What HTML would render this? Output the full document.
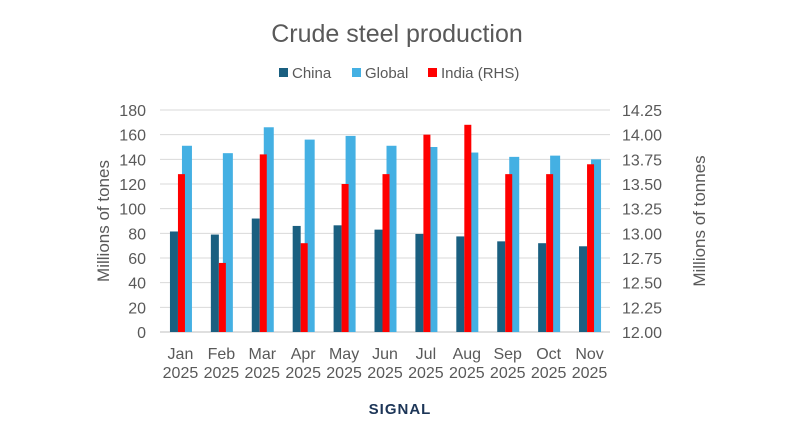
<!DOCTYPE html>
<html><head><meta charset="utf-8"><style>
body{margin:0;background:#fff;font-family:"Liberation Sans",sans-serif;}
svg text{font-family:"Liberation Sans",sans-serif;fill:#595959;}
</style></head><body>
<svg id="c" width="800" height="419" xmlns="http://www.w3.org/2000/svg">
<text x="397" y="42" font-size="25" text-anchor="middle">Crude steel production</text>
<g>
<rect x="279" y="68" width="9" height="9" fill="#1a5f80"/>
<text x="292" y="78" font-size="15">China</text>
<rect x="352" y="68" width="9" height="9" fill="#44b0e3"/>
<text x="365" y="78" font-size="15">Global</text>
<rect x="428" y="68" width="9" height="9" fill="#ff0000"/>
<text x="441" y="78" font-size="15">India (RHS)</text>
</g>
<text transform="translate(109,221) rotate(-90)" font-size="17" text-anchor="middle">Millions of tones</text>
<text transform="translate(705,221) rotate(-90)" font-size="17" text-anchor="middle">Millions of tonnes</text>
<g id="grid"></g><g id="bars"></g><g id="labels"></g>
<text x="400" y="414" font-size="15" font-weight="bold" text-anchor="middle" style="fill:#1c3557;letter-spacing:1px">SIGNAL</text>
</svg>
<script>
const categories=["Jan","Feb","Mar","Apr","May","Jun","Jul","Aug","Sep","Oct","Nov"];
const china=[81.5,79,92,86,86.5,83,79.5,77.5,73.5,72,69.5];
const global=[151,145,166,156,159,151,150,145.5,142,143,140];
const india=[13.6,12.7,13.8,12.9,13.5,13.6,14.0,14.1,13.6,13.6,13.7];
const leftTicks=[0,20,40,60,80,100,120,140,160,180];
const rightTicks=["12.00","12.25","12.50","12.75","13.00","13.25","13.50","13.75","14.00","14.25"];
const NS="http://www.w3.org/2000/svg";
const X0=160,X1=610,Y0=332,Y1=110;
const slot=(X1-X0)/categories.length;
const yL=v=>Y0-(v/180)*(Y0-Y1);
const yR=v=>Y0-((v-12)/2.25)*(Y0-Y1);
const xc=i=>X0+slot*(i+0.5);
function mk(tag,attrs,parent){const e=document.createElementNS(NS,tag);for(const k in attrs)e.setAttribute(k,attrs[k]);document.getElementById(parent).appendChild(e);return e;}
leftTicks.forEach((t,i)=>{
 const y=yL(t);
 const g=mk('line',{x1:X0,x2:X1,y1:y,y2:y,stroke:i==0?'#bfbfbf':'#d9d9d9','stroke-width':1},'grid');
 
 
 const l=mk('text',{x:146,y:y+6,'font-size':16,'text-anchor':'end'},'labels');l.textContent=t;
 
 
 const r=mk('text',{x:622,y:y+6,'font-size':16},'labels');r.textContent=rightTicks[i];
 
 
});
categories.forEach((c,i)=>{
 const x=xc(i);
 let b=mk('rect',{x:x-10.5,y:yL(china[i]),width:8,height:Y0-yL(china[i]),fill:'#1a5f80'},'bars');
 
 
 b=mk('rect',{x:x+1.5,y:yL(global[i]),width:10,height:Y0-yL(global[i]),fill:'#44b0e3'},'bars');
 
 
 b=mk('rect',{x:x-2.5,y:yR(india[i]),width:7,height:Y0-yR(india[i]),fill:'#ff0000'},'bars');
 
 
 const t=mk('text',{x:x,y:359,'font-size':16,'text-anchor':'middle'},'labels');t.textContent=c;
 
 
 const t2=mk('text',{x:x,y:378,'font-size':16,'text-anchor':'middle'},'labels');t2.textContent="2025";
 
 
});
</script>
</body></html>
